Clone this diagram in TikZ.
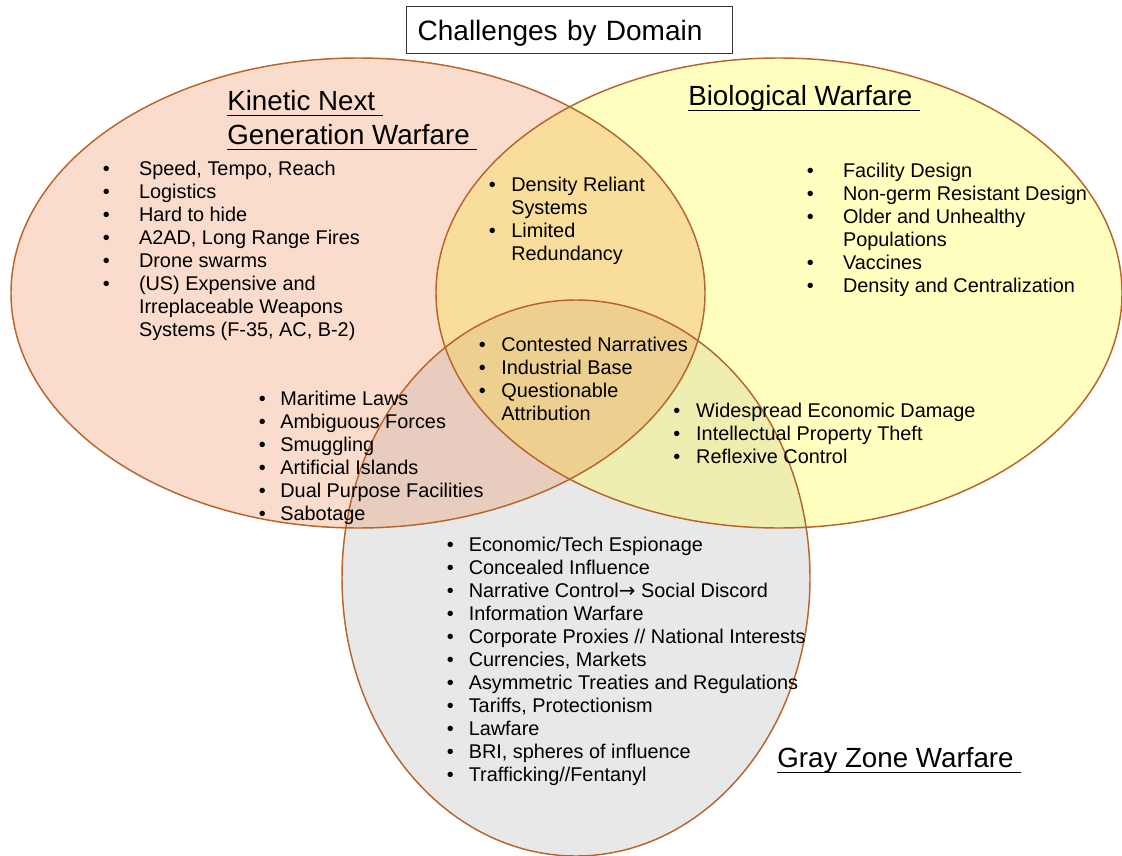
\documentclass[tikz,border=0pt]{standalone}
\usepackage{fontspec}
\setmainfont{Liberation Sans}
\newfontfamily\arrowfont{DejaVu Sans}

\definecolor{kinfill}{HTML}{F9DCCB}
\definecolor{biofill}{HTML}{FFFFC0}
\definecolor{grayfill}{HTML}{E8E8E8}
\definecolor{kinbio}{HTML}{F8DD9B}
\definecolor{kingray}{HTML}{E8CDBE}
\definecolor{biogray}{HTML}{EEEEB1}
\definecolor{allthree}{HTML}{EDD08F}
\definecolor{rimcol}{HTML}{B9642D}

% bullet item and continuation line, #1 = indent of the text
\newcommand{\itm}[2][27.2pt]{\makebox[#1][l]{\textbullet}#2}
\newcommand{\cont}[2][27.2pt]{\hspace*{#1}#2}
% heading with a heavier underline
\newcommand{\headline}[1]{\setbox0=\hbox{#1}\rlap{\rule[-4.6pt]{\wd0}{1.1pt}}\box0}

\tikzset{
  rim/.style={draw=rimcol, line width=1.1pt},
  itemlist/.style={anchor=north west, inner sep=0pt, align=left,
    font=\fontsize{14.9}{17.25}\selectfont},
  headtext/.style={anchor=north west, inner sep=0pt, align=left,
    font=\fontsize{20.8}{25.5}\selectfont},
}

\begin{document}
\begin{tikzpicture}[x=0.75pt, y=-0.75pt]
  \useasboundingbox (0,0) rectangle (1122,856);

  % Domain ellipses
  \fill[kinfill] (358,293) ellipse [x radius=260.25pt, y radius=176.25pt];
  \fill[biofill] (779,293) ellipse [x radius=257.25pt, y radius=176.25pt];
  \fill[grayfill] (576,578) ellipse [x radius=175.5pt, y radius=208.5pt];

  % Overlaps
  \begin{scope}
    \clip (779,293) ellipse [x radius=257.25pt, y radius=176.25pt];
    \fill[biogray] (576,578) ellipse [x radius=175.5pt, y radius=208.5pt];
  \end{scope}
  \begin{scope}
    \clip (358,293) ellipse [x radius=260.25pt, y radius=176.25pt];
    \fill[kinbio] (779,293) ellipse [x radius=257.25pt, y radius=176.25pt];
    \fill[kingray] (576,578) ellipse [x radius=175.5pt, y radius=208.5pt];
    \clip (779,293) ellipse [x radius=257.25pt, y radius=176.25pt];
    \fill[allthree] (576,578) ellipse [x radius=175.5pt, y radius=208.5pt];
  \end{scope}

  % Outlines
  \draw[rim] (358,293) ellipse [x radius=260.25pt, y radius=176.25pt];
  \draw[rim] (779,293) ellipse [x radius=257.25pt, y radius=176.25pt];
  \draw[rim] (576,578) ellipse [x radius=175.5pt, y radius=208.5pt];

  % Title
  \node[draw=black!80, line width=1pt, anchor=north west, inner xsep=8.25pt,
    text width=228pt, text depth=0pt, minimum height=35.25pt, align=left,
    font=\fontsize{21}{25}\selectfont] (title) at (406,6) {Challenges by Domain};

  % Headings
  \node[headtext] (kinhead) at (227,90)
    {\headline{Kinetic Next\ }\\\headline{Generation Warfare\ }};
  \node[headtext] (biohead) at (688,85) {\headline{Biological Warfare\ }};
  \node[headtext] (grayhead) at (777,747) {\headline{Gray Zone Warfare\ }};

  % Kinetic only
  \node[itemlist] (kinlist) at (102.5,161)
    {\itm{Speed, Tempo, Reach}\\
     \itm{Logistics}\\
     \itm{Hard to hide}\\
     \itm{A2AD, Long Range Fires}\\
     \itm{Drone swarms}\\
     \itm{(US) Expensive and}\\
     \cont{Irreplaceable Weapons}\\
     \cont{Systems (F-35, AC, B-2)}};

  % Biological only
  \node[itemlist] (biolist) at (806.5,163)
    {\itm{Facility Design}\\
     \itm{Non-germ Resistant Design}\\
     \itm{Older and Unhealthy}\\
     \cont{Populations}\\
     \itm{Vaccines}\\
     \itm{Density and Centralization}};

  % Kinetic and biological
  \node[itemlist] (kinbiolist) at (488.5,177)
    {\itm[16.9pt]{Density Reliant}\\
     \cont[16.9pt]{Systems}\\
     \itm[16.9pt]{Limited}\\
     \cont[16.9pt]{Redundancy}};

  % All three
  \node[itemlist] (centrelist) at (478.5,337)
    {\itm[16.9pt]{Contested Narratives}\\
     \itm[16.9pt]{Industrial Base}\\
     \itm[16.9pt]{Questionable}\\
     \cont[16.9pt]{Attribution}};

  % Kinetic and gray zone
  \node[itemlist] (kingraylist) at (258.5,391)
    {\itm[16.2pt]{Maritime Laws}\\
     \itm[16.2pt]{Ambiguous Forces}\\
     \itm[16.2pt]{Smuggling}\\
     \itm[16.2pt]{Artificial Islands}\\
     \itm[16.2pt]{Dual Purpose Facilities}\\
     \itm[16.2pt]{Sabotage}};

  % Biological and gray zone
  \node[itemlist] (biograylist) at (673,403)
    {\itm[17.2pt]{Widespread Economic Damage}\\
     \itm[17.2pt]{Intellectual Property Theft}\\
     \itm[17.2pt]{Reflexive Control}};

  % Gray zone only
  \node[itemlist] (graylist) at (446.5,537)
    {\itm[16.5pt]{Economic/Tech Espionage}\\
     \itm[16.5pt]{Concealed Influence}\\
     \itm[16.5pt]{Narrative Control{\arrowfont →} Social Discord}\\
     \itm[16.5pt]{Information Warfare}\\
     \itm[16.5pt]{Corporate Proxies // National Interests}\\
     \itm[16.5pt]{Currencies, Markets}\\
     \itm[16.5pt]{Asymmetric Treaties and Regulations}\\
     \itm[16.5pt]{Tariffs, Protectionism}\\
     \itm[16.5pt]{Lawfare}\\
     \itm[16.5pt]{BRI, spheres of influence}\\
     \itm[16.5pt]{Trafficking//Fentanyl}};
\end{tikzpicture}
\end{document}
